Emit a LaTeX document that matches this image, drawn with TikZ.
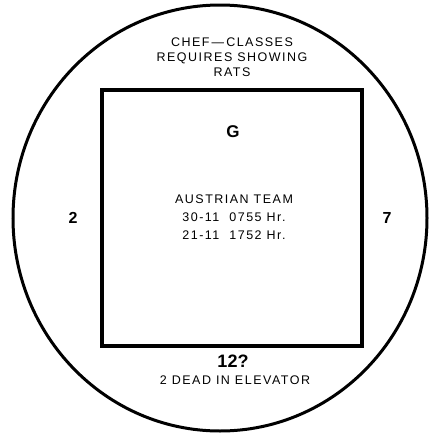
\documentclass[tikz,border=0pt]{standalone}
\usepackage{fontspec}
\setmainfont{Liberation Sans}
\newfontfamily\spaced[LetterSpace=12]{Liberation Sans}
\begin{document}
\begin{tikzpicture}[x=1pt,y=-1pt,
  lbl/.style={font=\spaced\fontsize{12.5}{15}\selectfont, align=center, inner sep=0pt},
  big/.style={font=\bfseries\fontsize{16}{18}\selectfont, inner sep=0pt}]
\useasboundingbox (0,0) rectangle (431,434);
\fill[white] (0,0) rectangle (431,434);
\draw[line width=3pt] (220,218) ellipse [x radius=207, y radius=213];
\node[draw, line width=4pt, minimum width=260pt, minimum height=256pt, inner sep=0pt] (room) at (232,218) {};
\node[lbl] (top) at (232,57) {CHEF\,—\,CLASSES\\REQUIRES SHOWING\\RATS};
\node[big, font=\bfseries\fontsize{17}{18}\selectfont] (g) at (233,132) {G};
\node[lbl, font=\spaced\fontsize{12.5}{18}\selectfont] (team) at (234,217) {AUSTRIAN TEAM\\30-11\ \ 0755 Hr.\\21-11\ \ 1752 Hr.};
\node[big] (left) at (73,218) {2};
\node[big] (right) at (387,218) {7};
\node[big, font=\bfseries\fontsize{18}{18}\selectfont] (bot) at (233,361) {12?};
\node[lbl] (dead) at (235,380) {2 DEAD IN ELEVATOR};
\end{tikzpicture}
\end{document}
